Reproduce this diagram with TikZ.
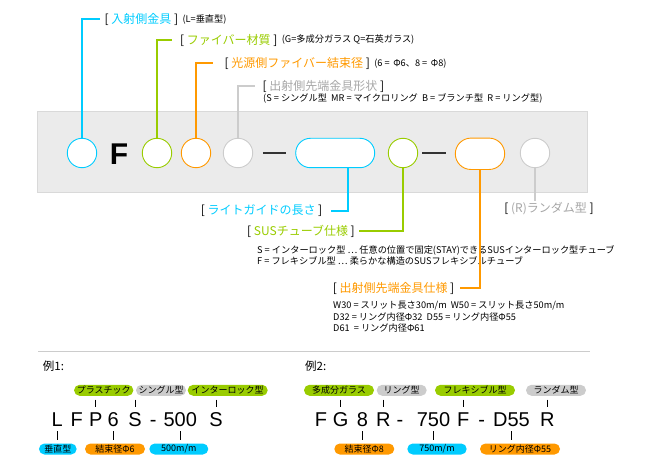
\documentclass[tikz,border=0pt]{standalone}
\usepackage{fontspec}
\setmainfont{Noto Sans CJK JP}
\newfontfamily\codefont{Liberation Sans}
\usetikzlibrary{positioning,shapes.misc}
\definecolor{lgcyan}{HTML}{00CCFF}
\definecolor{lggreen}{HTML}{99CC00}
\definecolor{lgorange}{HTML}{FF9900}
\definecolor{lggray}{HTML}{CCCCCC}
\definecolor{lgtext}{HTML}{A6A6A6}
\definecolor{boxfill}{HTML}{EBEBEB}
\definecolor{boxline}{HTML}{D9D9D9}
\definecolor{dashcol}{HTML}{333333}
\tikzset{slot/.style={circle, draw=#1, fill=white, line width=0.9pt,
         minimum size=29.4pt, inner sep=0pt},
         longslot/.style={rounded rectangle, draw=#1, fill=white,
         line width=0.9pt, inner sep=0pt},
         lead/.style={draw=#1, line width=2pt},
         head/.style={font=\fontsize{12}{14}\selectfont, inner sep=1pt},
         note/.style={font=\fontsize{9.2}{11}\selectfont, inner sep=1pt},
         codetag/.style={fill=#1, rounded corners=5.5pt, minimum height=11pt,
         inner sep=0pt, font=\fontsize{9}{10}\selectfont},
         glyph/.style={font=\codefont\fontsize{20}{24}\selectfont, inner sep=0pt,
         text height=14.3pt, text depth=0pt, anchor=base},
         tickline/.style={draw=black, line width=0.8pt}}

\begin{document}
\begin{tikzpicture}[x=1pt, y=-1pt]
  \useasboundingbox (0,0) rectangle (649,468);

  % code chart
  \draw[fill=boxfill, draw=boxline, line width=0.8pt] (37.3,111) rectangle (587.3,192.3);
  \node[slot=lgcyan] (inlet) at (82,153) {};
  \node[font=\codefont\bfseries\fontsize{30}{32}\selectfont, inner sep=0pt] (fixF) at (119,154) {F};
  \node[slot=lggreen] (fiber) at (157,153) {};
  \node[slot=lgorange] (bundle) at (196,153) {};
  \node[slot=lggray] (shape) at (238,153) {};
  \node[longslot=lgcyan, minimum width=79pt, minimum height=29.4pt] (length) at (335.2,153) {};
  \node[slot=lggreen] (tube) at (403,153) {};
  \node[longslot=lgorange, minimum width=49.4pt, minimum height=31.4pt] (tip) at (480,153.8) {};
  \node[slot=lggray] (random) at (535,153) {};
  \draw[dashcol, line width=2pt] ([xshift=9.6pt]shape.east) -- ([xshift=-9.4pt]length.west);
  \draw[dashcol, line width=2pt] ([xshift=4.3pt]tube.east) -- ([xshift=-9.3pt]tip.west |- tube.east);

  % headings above
  \node[head, anchor=west] (hIn) at (103.5,19.5) {[ \textcolor{lgcyan}{入射側金具} ]};
  \node[note, right=2pt of hIn] (nIn) {(L=垂直型)};
  \node[head, anchor=west] (hFiber) at (179,40) {[ \textcolor{lggreen}{ファイバー材質} ]};
  \node[note, right=2pt of hFiber] (nFiber) {(G=多成分ガラス Q=石英ガラス)};
  \node[head, anchor=west] (hBundle) at (223.5,63.3) {[ \textcolor{lgorange}{光源側ファイバー結束径} ]};
  \node[note, right=2pt of hBundle] (nBundle) {(6 = \,Φ6、8 = \,Φ8)};
  \node[head, anchor=west] (hShape) at (261.5,86) {[ \textcolor{lgtext}{出射側先端金具形状} ]};
  \node[note, anchor=west] (nShape) at (262,98) {(S = シングル型\ \ MR = マイクロリング\ \ B = ブランチ型\ \ R = リング型)};

  \draw[lead=lgcyan] (inlet.north) |- ([xshift=-3.5pt]hIn.west);
  \draw[lead=lggreen] (fiber.north) |- ([xshift=-7.3pt]hFiber.west);
  \draw[lead=lgorange] (bundle.north) |- ([xshift=-10.5pt]hBundle.west);
  \draw[lead=lggray] (shape.north) |- ([xshift=-6.5pt]hShape.west);

  % headings below
  \node[head, anchor=east] (hLen) at (323.5,210.7) {[ \textcolor{lgcyan}{ライトガイドの長さ} ]};
  \node[head, anchor=east] (hTube) at (356,231) {[ \textcolor{lggreen}{SUSチューブ仕様} ]};
  \node[note, anchor=west] (tubeS) at (256,250) {S = インターロック型 ⋯ 任意の位置で固定(STAY)できるSUSインターロック型チューブ};
  \node[note, anchor=west] (tubeF) at (256,261) {F = フレキシブル型 ⋯ 柔らかな構造のSUSフレキシブルチューブ};
  \node[head, anchor=east] (hTip) at (455.5,288) {[ \textcolor{lgorange}{出射側先端金具仕様} ]};
  \node[note, anchor=west] (tipW) at (332,305.7) {W30 = スリット長さ30m/m\ \ W50 = スリット長さ50m/m};
  \node[note, anchor=west] (tipD) at (332,317) {D32 = リング内径Φ32\ \ D55 = リング内径Φ55};
  \node[note, anchor=west] (tipE) at (332,328) {D61\ \ = リング内径Φ61};
  \node[head] (hRnd) at (549,208.3) {[ \textcolor{lgtext}{(R)ランダム型} ]};

  \draw[lead=lgcyan] ([xshift=13pt]length.south) |- ([xshift=7.5pt]hLen.east);
  \draw[lead=lggreen] (tube.south) |- ([xshift=3pt]hTube.east);
  \draw[lead=lgorange] (tip.south) |- ([xshift=4.5pt]hTip.east);
  \draw[lead=lggray] (random.south) -- (random.south |- hRnd.north);

  \draw[lggray, line width=1pt] (38.4,351.3) -- (590,351.3);

  % example 1
  \node[font=\fontsize{11.5}{13}\selectfont, anchor=west, inner sep=0pt] (ex1) at (42.7,366) {例1:};
  \node[glyph] (aL) at (57.3,426.7) {L};
  \node[glyph] (aF) at (76.7,426.7) {F};
  \node[glyph] (aP) at (95.7,426.7) {P};
  \node[glyph] (a6) at (113.3,426.7) {6};
  \node[glyph] (aS) at (135,426.7) {S};
  \node[glyph] (aDash) at (153.3,426.7) {-};
  \node[glyph] (a500) at (180.3,426.7) {500};
  \node[glyph] (aS2) at (216,426.7) {S};
  \node[codetag=lggreen, minimum width=59.3pt] (tP) at (103.7,390.3) {プラスチック};
  \node[codetag=lggray, minimum width=50pt] (tS) at (161,390.3) {シングル型};
  \node[codetag=lggreen, minimum width=80pt] (tS2) at (227.7,390.3) {インターロック型};
  \node[codetag=lgcyan, minimum width=37.7pt] (sL) at (57.8,449) {垂直型};
  \node[codetag=lgorange, minimum width=60pt] (s6) at (115,449) {結束径Φ6};
  \node[codetag=lgcyan, minimum width=59pt] (s500) at (178.8,449) {500m/m};
  \foreach \l/\t in {aP/tP, aS/tS, aS2/tS2}
    \draw[tickline] (\t.south -| \l.north) ++(0,3.5) -- ([yshift=5pt]\l.north);
  \foreach \l/\t in {aL/sL, a6/s6, a500/s500}
    \draw[tickline] (\t.north -| \l.south) ++(0,-3.5) -- ([yshift=-4.3pt]\l.south);

  % example 2
  \node[font=\fontsize{11.5}{13}\selectfont, anchor=west, inner sep=0pt] (ex2) at (305,366) {例2:};
  \node[glyph] (bF) at (321,426.7) {F};
  \node[glyph] (bG) at (340.7,426.7) {G};
  \node[glyph] (b8) at (362.5,426.7) {8};
  \node[glyph] (bR) at (383.3,426.7) {R};
  \node[glyph] (bDash) at (400,426.7) {-};
  \node[glyph] (b750) at (433.5,426.7) {750};
  \node[glyph] (bF2) at (463.3,426.7) {F};
  \node[glyph] (bDash2) at (481.7,426.7) {-};
  \node[glyph] (bD55) at (511.5,426.7) {D55};
  \node[glyph] (bR2) at (547.3,426.7) {R};
  \node[codetag=lggreen, minimum width=70pt] (tG) at (339,390.3) {多成分ガラス};
  \node[codetag=lggray, minimum width=50pt] (tR) at (401.7,390.3) {リング型};
  \node[codetag=lggreen, minimum width=80pt] (tF2) at (475,390.3) {フレキシブル型};
  \node[codetag=lggray, minimum width=60pt] (tR2) at (556,390.3) {ランダム型};
  \node[codetag=lgorange, minimum width=60pt] (s8) at (364.3,449) {結束径Φ8};
  \node[codetag=lgcyan, minimum width=59.4pt] (s750) at (437,449) {750m/m};
  \node[codetag=lgorange, minimum width=80pt] (sD55) at (520,449) {リング内径Φ55};
  \foreach \l/\t in {bG/tG, bR/tR, bF2/tF2, bR2/tR2}
    \draw[tickline] (\t.south -| \l.north) ++(0,3.5) -- ([yshift=5pt]\l.north);
  \draw[tickline] (s8.north -| b8.south) ++(0,-3.5) -- ([yshift=-4.3pt]b8.south);
  \draw[tickline] (s750.north -| b750.south) ++(0,-3.5) -- ([yshift=-4.3pt]b750.south);
  \draw[tickline] (sD55.north -| bD55.south) ++(0,-3.5) -- ([yshift=-4.3pt]bD55.south);
\end{tikzpicture}
\end{document}
